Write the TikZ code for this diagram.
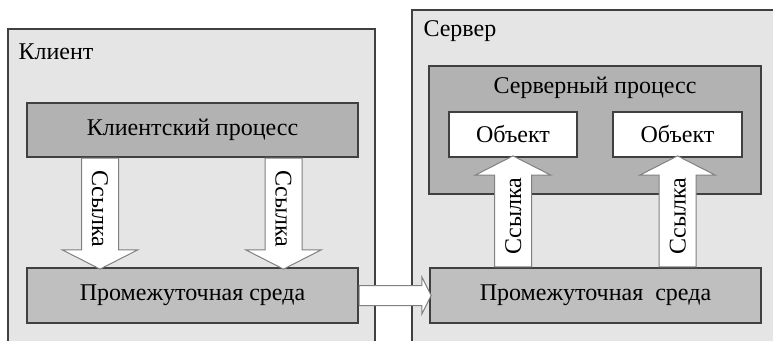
\documentclass[tikz,border=0pt]{standalone}
\usepackage{fontspec}
\setmainfont{Liberation Serif}
\usetikzlibrary{shapes.arrows,calc}

\tikzset{
	box/.style={rectangle, draw=black!75, line width=1.2pt, inner sep=0pt},
	link/.style={single arrow, draw=black!50, fill=white, line width=1pt, inner sep=0pt,
		text height=26pt, text depth=10pt, single arrow head extend=19pt,
		single arrow tip angle=126, minimum height=111pt, anchor=tail}
}

\begin{document}
\begin{tikzpicture}[x=1pt, y=1pt, font=\fontsize{24}{28}\selectfont]
	\useasboundingbox (0,0) rectangle (773,340);
	\fill[white] (0,0) rectangle (773,340);
	\draw[black!75, line width=1.2pt, fill=gray!20] (8,-10) rectangle (375,311);
	\draw[black!75, line width=1.2pt, fill=gray!20] (412,-10) rectangle (790,330);
	\node[anchor=base west](client) at (15,280){Клиент};
	\node[anchor=base west](server) at (420,303){Сервер};

	\node[box, fill=gray!60, minimum width=331pt, minimum height=54pt](cproc) at (192.5,210){Клиентский процесс};
	\node[box, fill=gray!50, minimum width=331pt, minimum height=55pt](cmid) at (192.5,44.5){Промежуточная среда};

	\node[box, fill=gray!60, minimum width=332pt, minimum height=128pt](sproc) at (595,210){};
	\node(stitle) at ($(sproc.north)+(0,-22)$){Серверный процесс};
	\node[box, fill=white, minimum width=128pt, minimum height=45pt](obj1) at (513,205.5){Объект};
	\node[box, fill=white, minimum width=129pt, minimum height=45pt](obj2) at (677.5,205.5){Объект};
	\node[box, fill=gray!50, minimum width=331pt, minimum height=55pt](smid) at (595.5,44.5){Промежуточная\ \ среда};

	\node[link, rotate=-90](ref1) at (cproc.south -| 100,0){Ссылка};
	\node[link, rotate=-90](ref2) at (cproc.south -| 283.5,0){Ссылка};
	\node[link, rotate=90](ref3) at (smid.north -| obj1.south){Ссылка};
	\node[link, rotate=90](ref4) at (smid.north -| obj2.south){Ссылка};

	\node[single arrow, draw=black!50, fill=white, line width=1pt, inner sep=0pt,
		text height=19pt, text depth=0pt, single arrow head extend=8.5pt,
		single arrow tip angle=127, minimum height=72pt, anchor=tail](pass) at (cmid.east){};
\end{tikzpicture}
\end{document}
